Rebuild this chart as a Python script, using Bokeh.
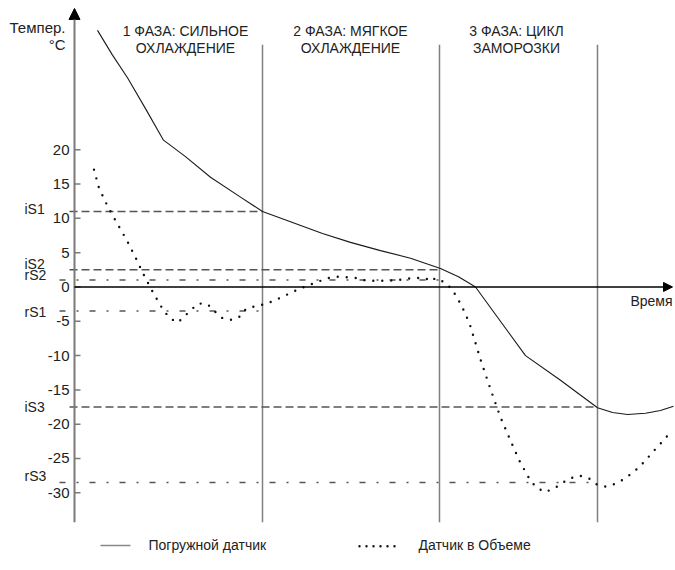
from bokeh.plotting import figure
from bokeh.models import Range1d, Arrow, NormalHead
from bokeh.core.properties import value
from bokeh.embed import file_html
from bokeh.resources import INLINE

# ---------------- data ----------------
# time in arbitrary units, temperature in °C
probe_t = [4.6, 7.6, 10.6, 14.2, 17.8, 22.2, 27.2, 33.2, 37.6, 43.2, 49.6, 55.2, 61.2,
           67.2, 73.2, 76.8, 80.2, 90.2, 97.2, 104.6, 107.6, 110.6, 114.2, 117.2, 119.8]
probe_temp = [37.4, 33.8, 30.5, 26.0, 21.4, 19.0, 16.0, 13.1, 11.0, 9.5, 7.8, 6.5, 5.3,
              4.2, 2.7, 1.5, 0.0, -10.0, -13.6, -17.6, -18.3, -18.6, -18.4, -18.0, -17.4]

air_t = [3.9, 4.9, 6.6, 8.5, 10.4, 12.2, 13.9, 15.7, 17.7, 19.0, 20.6, 22.0, 23.2, 24.8,
         26.6, 28.1, 29.5, 31.4, 33.1, 34.3, 36.2, 38.1, 39.9, 45.2, 47.0, 48.8, 50.8,
         52.6, 54.6, 56.6, 58.4, 60.6, 62.4, 64.6, 66.4, 68.4, 70.2, 71.2, 72.2, 74.0,
         75.5, 77.4, 79.0, 81.3, 83.2, 85.2, 87.5, 89.1, 91.0, 92.2, 94.0, 95.9, 97.5,
         99.1, 101.0, 102.9, 104.5, 106.3, 108.1, 109.9, 111.4, 112.9, 114.3, 115.6,
         117.0, 118.2, 119.5]
air_temp = [17.1, 14.4, 11.8, 9.3, 6.9, 4.3, 1.7, -0.8, -3.3, -4.5, -5.2, -4.3, -3.4, -2.4,
            -2.5, -3.6, -4.5, -4.8, -4.3, -3.2, -2.8, -2.5, -2.0, -0.2, 0.3, 0.8, 1.3,
            1.5, 1.4, 1.3, 0.9, 0.9, 0.9, 1.0, 1.2, 1.3, 1.3, 0.8, 1.3, 0.7,
            -0.3, -2.7, -5.3, -10.8, -14.9, -19.0, -22.9, -25.5, -28.0, -29.1, -29.9, -29.4, -28.6,
            -27.9, -27.5, -27.9, -28.8, -29.1, -28.7, -28.0, -27.2, -26.3, -25.2, -24.1,
            -23.0, -22.0, -21.0]

phase_ends = [37.6, 73.0, 104.6]
phase_titles = ["1 ФАЗА: СИЛЬНОЕ", "2 ФАЗА: МЯГКОЕ", "3 ФАЗА: ЦИКЛ"]
phase_subtitles = ["ОХЛАЖДЕНИЕ", "ОХЛАЖДЕНИЕ", "ЗАМОРОЗКИ"]

thr_names = ["iS1", "iS2", "rS2", "rS1", "iS3", "rS3"]
thr_values = [11.0, 2.5, 1.0, -3.5, -17.5, -28.5]
thr_phase = [0, 1, 1, 0, 2, 2]          # threshold line runs up to end of this phase

y_ticks = [20, 15, 10, 5, 0, -5, -10, -15, -20, -25, -30]
y_tick_labels = ["20", "15", "10", "5", "0", "-5", "-10", "-15", "-20", "-25", "-30"]

legend_labels = ["Погружной датчик", "Датчик в Объеме"]

# ---------------- figure ----------------
FONT = value("Liberation Sans")
TXT = "#222222"
p = figure(width=675, height=570, x_range=Range1d(-14.8, 120.2), y_range=Range1d(-41.33, 41.76),
           output_backend="svg", toolbar_location=None, x_axis_type=None, y_axis_type=None,
           min_border=0)
p.grid.visible = False
p.outline_line_color = None
p.background_fill_color = "white"
p.border_fill_color = "white"

AX_BOTTOM = -34.3
PHASE_TOP = 35.3

# phase separators
p.segment(x0=phase_ends, y0=[AX_BOTTOM] * 3, x1=phase_ends, y1=[PHASE_TOP] * 3,
          line_color="#808080", line_width=1.5)

# threshold lines
for name, v, ph in zip(thr_names, thr_values, thr_phase):
    if name.startswith("i"):
        p.line([-1.0, phase_ends[ph]], [v, v], line_color="#555555", line_width=1.5, line_dash="8 4")
    else:
        p.line([-3.0, phase_ends[ph]], [v, v], line_color="#555555", line_width=1.5, line_dash="6 11 2 11")

# y axis
p.add_layout(Arrow(end=NormalHead(size=11, fill_color="black", line_color="black"),
                   x_start=0, y_start=AX_BOTTOM, x_end=0, y_end=40.6,
                   line_color="#7a7a7a", line_width=2))
p.segment(x0=[0] * len(y_ticks), y0=y_ticks, x1=[1.2] * len(y_ticks), y1=y_ticks,
          line_color="#7a7a7a", line_width=1.5)
p.text(x=[-1.0] * len(y_ticks), y=y_ticks, text=y_tick_labels, text_align="right",
       text_baseline="middle", text_font=FONT, text_font_size="15px", text_color=TXT)

# x axis (time)
p.add_layout(Arrow(end=NormalHead(size=9, fill_color="black", line_color="black"),
                   x_start=0, y_start=0, x_end=119.6, y_end=0,
                   line_color="black", line_width=1.5))

# curves
p.line(probe_t, probe_temp, line_color="#1a1a1a", line_width=1.1)
p.line(air_t, air_temp, line_color="#111111", line_width=2.4, line_dash="0 9", line_cap="round")

# threshold labels
p.text(x=[-10.0] * len(thr_names), y=thr_values, text=thr_names, y_offset=[-3, -6, -5, 1, 0, -6],
       text_align="left", text_baseline="middle", text_font=FONT, text_font_size="14px",
       text_color=TXT)

# axis titles
p.text(x=[-1.8, -1.8], y=[37.8, 35.3], text=["Темпер.", "°C"], text_align="right",
       text_baseline="middle", text_font=FONT, text_font_size="15px", text_color=TXT)
p.text(x=[119.6], y=[-2.1], text=["Время"], text_align="right", text_baseline="middle",
       text_font=FONT, text_font_size="14px", text_color=TXT)

# phase titles
phase_cx = [22.2, 55.2, 88.4]
p.text(x=phase_cx, y=[37.3] * 3, text=phase_titles, text_align="center", text_baseline="middle",
       text_font=FONT, text_font_size="14px", text_color=TXT)
p.text(x=phase_cx, y=[34.8] * 3, text=phase_subtitles, text_align="center", text_baseline="middle",
       text_font=FONT, text_font_size="14px", text_color=TXT)

# legend
p.line([5.2, 11.2], [-37.7, -37.7], line_color="#888888", line_width=1.5)
p.line([57.0, 64.4], [-37.8, -37.8], line_color="#111111", line_width=2.4, line_dash="0 7", line_cap="round")
p.text(x=[14.8, 68.8], y=[-37.6, -37.6], text=legend_labels, text_align="left", text_baseline="middle",
       text_font=FONT, text_font_size="14px", text_color=TXT)

open("out.html", "w").write(file_html(p, INLINE))
